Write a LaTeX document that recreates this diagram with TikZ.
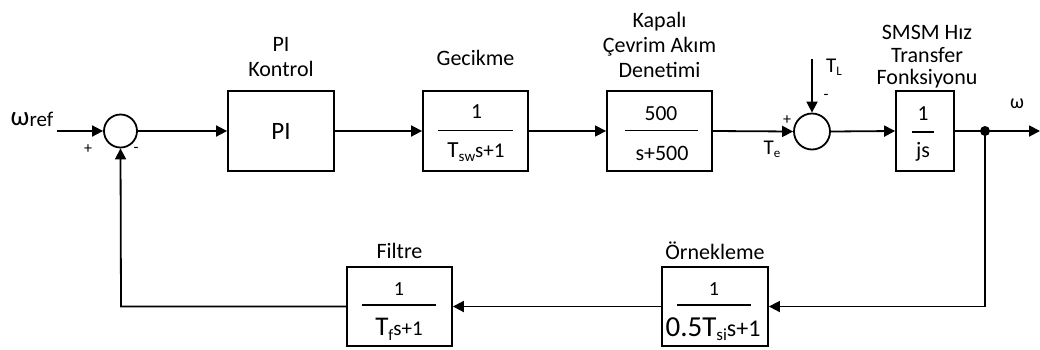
\documentclass[tikz,border=0pt]{standalone}
\usepackage{fontspec}
\setmainfont{Carlito}
\usetikzlibrary{arrows.meta}
% subscript: size, drop, text
\newcommand{\lsub}[3]{\raisebox{-#2}{\fontsize{#1}{#1}\selectfont #3}}
\newcommand{\fs}[1]{\fontsize{#1}{25}\selectfont}
\newcommand{\fsnarrow}{\fontsize{22}{22.5}\selectfont}
\tikzset{
  blk/.style={draw, line width=1.8pt, minimum width=#1, minimum height=80pt, inner sep=0pt},
  sumc/.style={draw, circle, line width=1.8pt, minimum size=#1, inner sep=0pt},
  lbl/.style={align=center, inner sep=0pt, font=\fs{22}},
  txt/.style={inner sep=0pt},
  sig/.style={line width=1.8pt, -{Triangle[length=11pt,width=11pt]}},
  fracrule/.style={line width=1.6pt},
}
\begin{document}
\begin{tikzpicture}[x=1pt,y=-1pt]
\useasboundingbox (0,0) rectangle (1040,349);

% summing junctions
\node[sumc=33pt] (s1) at (120.5,131) {};
\node[sumc=36pt] (s2) at (812,131.5) {};

% blocks
\node[blk=106pt] (pi) at (281,131) {\fs{25}PI};
\node[blk=105pt] (gec) at (475.5,131) {};
\node[blk=105pt] (kap) at (659.5,131) {};
\node[blk=58pt] (smsm) at (925,131) {};
\node[blk=106pt, minimum height=79pt] (orn) at (715,306.5) {};
\node[blk=105pt, minimum height=79pt] (fil) at (399.5,306.5) {};

% fractions
\node[txt, font=\fs{21.5}, anchor=base] (gecn) at (476.5,118) {1};
\draw[fracrule] (438,130.5) -- (513,130.5);
\node[txt, anchor=base] (gecd) at (476,157) {\fs{23}T\lsub{15}{4pt}{sw}\fs{21}s+1};

\node[txt, font=\fs{21.5}, anchor=base] (kapn) at (661,120) {500};
\draw[fracrule] (625,130.5) -- (698,130.5);
\node[txt, font=\fs{22}, anchor=base] (kapd) at (662,160) {s+500};

\node[txt, font=\fs{21.5}, anchor=base] (smn) at (923,120) {1};
\draw[fracrule] (912,132) -- (934,132);
\node[txt, font=\fs{22}, anchor=base] (smd) at (923,157) {js};

\node[txt, font=\fs{20}, anchor=base] (filn) at (399,295) {1};
\draw[fracrule] (362,305) -- (436,305);
\node[txt, anchor=base] (fild) at (399,335) {\fs{27}T\lsub{16}{5pt}{f}\fs{21}s+1};

\node[txt, font=\fs{20}, anchor=base] (ornn) at (714,295) {1};
\draw[fracrule] (677,305) -- (751,305);
\node[txt, anchor=base] (ornd) at (713,336) {\fs{29}0.5T\lsub{17}{4pt}{si}\fs{24}s+1};

% block labels
\node[lbl] (pil) at (281,57.5) {PI\\Kontrol};
\node[lbl] (gecl) at (475.5,57.5) {Gecikme};
\node[lbl] (kapl) at (659.5,45) {Kapalı\\Çevrim Akım\\Denetimi};
\node[lbl, font=\fsnarrow] (sml) at (927,57) {SMSM Hız\\Transfer\\Fonksiyonu};
\node[lbl] (orl) at (715,251) {Örnekleme};
\node[lbl] (fill) at (399.5,251) {Filtre};

% signal labels
\node[txt, anchor=base] (wref) at (32,125) {\fs{27}ω\lsub{21}{1pt}{ref}};
\node[txt, font=\fs{20}] (wout) at (1017,104) {ω};
\node[txt, font=\fs{16}] (p1) at (88,149) {+};
\node[txt, font=\fs{16}] (m1) at (136,150) {-};
\node[txt, font=\fs{16}] (p2) at (787,120) {+};
\node[txt, font=\fs{16}] (m2) at (826,97) {-};
\node[txt, anchor=base] (tl) at (834,72) {\fs{21}T\lsub{13}{3pt}{L}};
\node[txt, anchor=base] (te) at (772,154) {\fs{21}T\lsub{13}{3pt}{e}};

% coordinates
\coordinate (win) at (57,131);
\coordinate (tlin) at (812,59);
\coordinate (br) at (985,131);
\coordinate (wend) at (1040,131);
\coordinate (bdr) at (985,306.5);
\coordinate (bdl) at (121,306.5);

% connectors
\draw[sig] (win) -- (s1.west);
\draw[sig] (s1.east) -- (pi.west);
\draw[sig] (pi.east) -- (gec.west);
\draw[sig, line width=1.3pt] (gec.east) -- (kap.west);
\draw[sig] (kap.east) -- (s2.west);
\draw[sig] (tlin) -- (s2.north);
\draw[sig] (s2.east) -- (smsm.west);
\draw[sig] (smsm.east) -- (wend);
\fill (br) circle (5pt);
\draw[sig] (br) -- (bdr) -- (orn.east);
\draw[sig] (orn.west) -- (fil.east);
\draw[sig] (fil.west) -- (bdl) -- (s1.south);
\end{tikzpicture}
\end{document}
